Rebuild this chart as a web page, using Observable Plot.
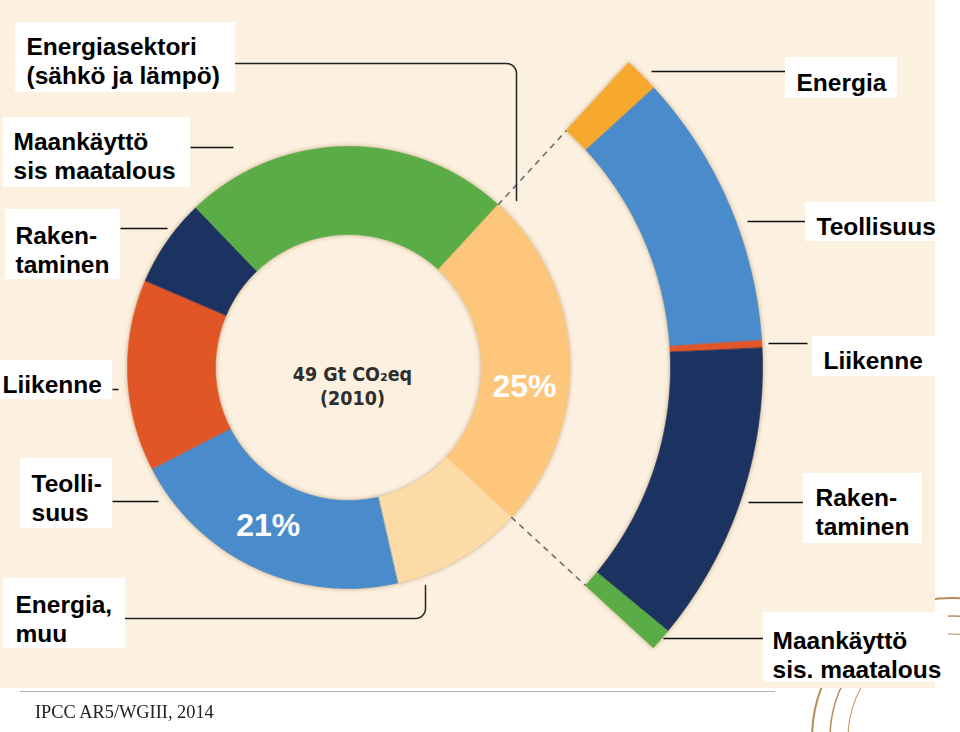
<!DOCTYPE html>
<html><head><meta charset="utf-8">
<script src="https://cdn.jsdelivr.net/npm/d3@7"></script>
<script src="https://cdn.jsdelivr.net/npm/@observablehq/plot@0.6"></script>
<style>
body{margin:0;background:#fff;width:960px;height:732px;overflow:hidden;font-family:"Liberation Sans",Arial,sans-serif}
#page{position:relative;width:960px;height:732px}
#seal{position:absolute;left:0;top:0}
#panel{position:absolute;left:0;top:0;width:935px;height:688px;background:#fcf1e0}
#chart{position:absolute;left:0;top:0}
#chart svg{display:block}
.rule{position:absolute;left:20px;top:691px;width:755px;height:1px;background:#b5b5b5}
.cap{position:absolute;left:35px;top:701px;font-family:"Liberation Serif","Times New Roman",serif;font-size:19px;color:#222;transform:scaleX(0.965);transform-origin:0 0;white-space:nowrap}
</style></head><body>
<div id="page">
<svg id="seal" width="960" height="732">
  <g fill="none" stroke="#b98d5b" stroke-width="2">
    <circle cx="952" cy="738" r="140"/>
    <circle cx="952" cy="738" r="122" stroke-width="1.5"/>
    <circle cx="952" cy="738" r="104" stroke-width="1"/>
  </g>
</svg>
<div id="panel"></div>
<div id="chart"></div>
<div class="rule"></div><div class="cap">IPCC AR5/WGIII, 2014</div>
</div>
<script>
// ---- data ----
const sectors = ["Maankäyttö", "Energiasektori", "Energia, muu", "Teollisuus", "Liikenne", "Rakentaminen"];
const directShares = [24, 25, 9.6, 21, 14, 6.4];
const sectorColors = ["#5aad46", "#fdc67b", "#fddba6", "#4a8bcb", "#e15627", "#1c3361"];
const indirectSectors = ["Energia", "Teollisuus", "Liikenne", "Rakentaminen", "Maankäyttö"];
const indirectShares = [1.4, 11, 0.3, 12, 0.87];
const indirectColors = ["#f6a92c", "#4a8bcb", "#e15627", "#1c3361", "#5aad46"];
const percentSectors = ["Energiasektori", "Teollisuus"];
const percentTexts = ["25%", "21%"];
const totalLines = ["49 Gt CO₂eq", "(2010)"];
const labelTexts = [
  "Energiasektori\n(sähkö ja lämpö)", "Maankäyttö\nsis maatalous", "Raken-\ntaminen", "Liikenne",
  "Teolli-\nsuus", "Energia,\nmuu", "Energia", "Teollisuus", "Liikenne", "Raken-\ntaminen",
  "Maankäyttö\nsis. maatalous"
];

// ---- layout (pixels) ----
const C = {x: 348, y: 367};
const donutR = [133, 221];
const explodeR = [322, 414];
const startDeg = -43.8;
const pctOffsetDeg = {"Energiasektori": 8.5, "Teollisuus": 2};
const FS = 24.5;
const labelLayout = [
  {box:[15,22,235,92],   t:[26,51]},
  {box:[3,117,190,187],  t:[13,146]},
  {box:[5,209,120,279],  t:[15,240]},
  {box:[0,360,112,399],  t:[2,389]},
  {box:[20,458,112,528], t:[31,488]},
  {box:[3,578,125,648],  t:[15,609]},
  {box:[785,57,897,98],  t:[796,87]},
  {box:[805,202,935,241],t:[816,231]},
  {box:[812,336,935,376],t:[823,365]},
  {box:[803,473,922,543],t:[815,502]},
  {box:[763,612,948,682],t:[772,645]}
];
const leaderLayout = [
  [190,147,233,147],[120,228,167,228],[112,389,118,389],[112,501,158,501],
  [651,71,785,71],[747,221,805,221],[768,343,807,343],[748,502,803,502],[663,638,763,638]
];

const rad = d => d * Math.PI / 180;
const polar = (a, r) => ({x: C.x + r * Math.sin(a), y: C.y - r * Math.cos(a)});

function ringPoints(arcs, names, colors, r0, r1) {
  const pts = [];
  arcs.forEach((a, i) => {
    const n = Math.max(4, Math.ceil((a.endAngle - a.startAngle) / rad(1)));
    for (let k = 0; k <= n; k++) {
      const t = a.startAngle + (a.endAngle - a.startAngle) * k / n;
      pts.push({...polar(t, r1), key: names[i], fill: colors[i]});
    }
    for (let k = n; k >= 0; k--) {
      const t = a.startAngle + (a.endAngle - a.startAngle) * k / n;
      pts.push({...polar(t, r0), key: names[i], fill: colors[i]});
    }
  });
  return pts;
}

const pie = d3.pie().sort(null).value(d => d)
  .startAngle(rad(startDeg)).endAngle(rad(startDeg) + 2 * Math.PI);
const donutArcs = pie(directShares);
const energyArc = donutArcs[sectors.indexOf("Energiasektori")];
const explodeArcs = d3.pie().sort(null).value(d => d)
  .startAngle(energyArc.startAngle).endAngle(energyArc.endAngle)(indirectShares);

const donutPts = ringPoints(donutArcs, sectors, sectorColors, donutR[0], donutR[1]);
const explodePts = ringPoints(explodeArcs, indirectSectors.map(s => "i-" + s), indirectColors, explodeR[0], explodeR[1]);

const dashes = [energyArc.startAngle, energyArc.endAngle].map(a => {
  const p = polar(a, donutR[1]), q = polar(a, explodeR[0]);
  return {x1: p.x, y1: p.y, x2: q.x, y2: q.y};
});

const pctData = percentSectors.map((s, i) => {
  const a = donutArcs[sectors.indexOf(s)];
  const mid = (a.startAngle + a.endAngle) / 2 + rad(pctOffsetDeg[s]);
  const p = polar(mid, (donutR[0] + donutR[1]) / 2);
  return {x: p.x, y: p.y, text: percentTexts[i]};
});

function cornerArc(cx, cy, r, a0, a1) {
  const o = [];
  for (let k = 0; k <= 8; k++) { const a = rad(a0 + (a1 - a0) * k / 8); o.push([cx + r * Math.cos(a), cy + r * Math.sin(a)]); }
  return o;
}
const bracket = (key, pts) => pts.map(p => ({x: p[0], y: p[1], key}));
const bracketPts = [
  ...bracket("b0", [[235,63], ...cornerArc(506,73,10,-90,0), [516,200]]),
  ...bracket("b1", [[125,618], ...cornerArc(415,608,10,90,0), [425,585]])
];

const leaders = leaderLayout.map(([x1,y1,x2,y2]) => ({x1,y1,x2,y2}));
const boxes = labelLayout.map(l => ({x1:l.box[0], y1:l.box[1], x2:l.box[2], y2:l.box[3]}));
const labels = labelTexts.map((t, i) => ({x: labelLayout[i].t[0], y: labelLayout[i].t[1] - 0.71 * FS, text: t}));
const centerText = totalLines.map((t, i) => ({x: C.x + 4, y: 380 + i * 24, text: t}));

const chart = Plot.plot({
  width: 960, height: 690, margin: 0,
  x: {domain: [0, 960], range: [0, 960], axis: null},
  y: {domain: [0, 690], range: [0, 690], axis: null},
  color: {type: "identity"},
  style: {background: "transparent", overflow: "visible"},
  marks: [
    Plot.line(donutPts, {x: "x", y: "y", z: "key", fill: "fill", stroke: "fill", strokeWidth: 0.6, curve: "linear-closed"}),
    Plot.line(explodePts, {x: "x", y: "y", z: "key", fill: "fill", stroke: "fill", strokeWidth: 0.6, curve: "linear-closed"}),
    Plot.link(dashes, {x1: "x1", y1: "y1", x2: "x2", y2: "y2", stroke: "#6e6e6e", strokeWidth: 1.6, strokeDasharray: "6,5"}),
    Plot.link(leaders, {x1: "x1", y1: "y1", x2: "x2", y2: "y2", stroke: "#111", strokeWidth: 1.5}),
    Plot.line(bracketPts, {x: "x", y: "y", z: "key", stroke: "#222", strokeWidth: 1.5}),
    Plot.rect(boxes, {x1: "x1", x2: "x2", y1: "y1", y2: "y2", fill: "white"}),
    Plot.text(labels, {x: "x", y: "y", text: "text", textAnchor: "start", lineAnchor: "top", lineHeight: 1.19,
      fontSize: FS, fontWeight: "bold", fontFamily: "Liberation Sans, Arial, sans-serif", fill: "#000"}),
    Plot.text(pctData, {x: "x", y: "y", text: "text", textAnchor: "middle", lineAnchor: "middle",
      fontSize: 32, fontWeight: "bold", fontFamily: "Liberation Sans, Arial, sans-serif", fill: "white"}),
    Plot.text(centerText, {x: "x", y: "y", text: "text", textAnchor: "middle", lineAnchor: "bottom",
      fontSize: 19.5, fontWeight: "bold", fontFamily: "DejaVu Sans Condensed, DejaVu Sans, sans-serif", fill: "#2e2e2e"})
  ]
});
document.getElementById("chart").appendChild(chart);
const lineGroups = chart.querySelectorAll('g[aria-label="line"]');
[0, 1].forEach(i => { if (lineGroups[i]) lineGroups[i].style.filter = "drop-shadow(0px 0px 2.5px rgba(150,105,50,0.55))"; });
</script>
</body></html>
